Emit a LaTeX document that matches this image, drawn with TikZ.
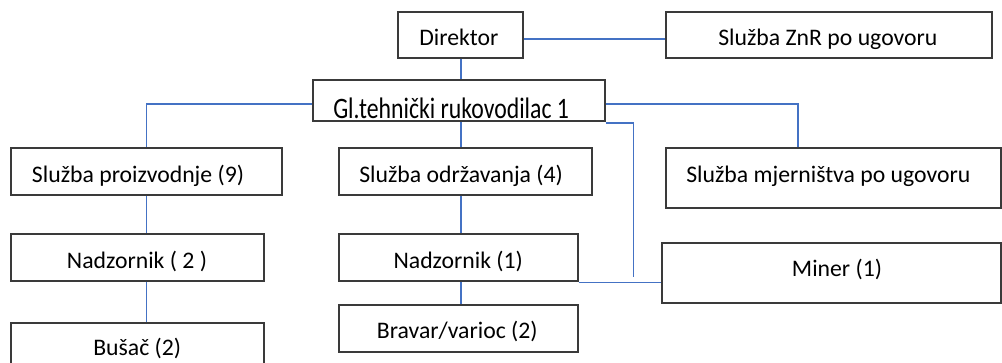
\documentclass[tikz,border=0pt]{standalone}
\usepackage{fontspec}
\usepackage{graphicx}
\setmainfont{Carlito}
\usetikzlibrary{fit}
\definecolor{connblue}{HTML}{4472C4}
\definecolor{boxline}{HTML}{3A3A3A}
\tikzset{
  box/.style={draw=boxline, line width=0.9pt, inner sep=0pt, fill=none},
  lbl/.style={inner sep=0pt, anchor=base west, font=\fontsize{17.8}{21}\selectfont, text=black},
  conn/.style={draw=connblue, line width=1.1pt}
}
\newcommand\bx[5]{\node[box, fit={(#2,#3) (#4,#5)}] (#1) {};}
\begin{document}
\begin{tikzpicture}[x=0.75pt,y=-0.75pt]
\useasboundingbox (0,0) rectangle (1002,362);
\clip (0,0) rectangle (1002,362);
\fill[white] (0,0) rectangle (1002,362);
% column coordinates
\coordinate (c1) at (146.5,0);
\coordinate (c2) at (461,0);
\coordinate (mtap) at (633.5,277);
% boxes
\bx{dir}{398}{12}{523}{58}
\bx{znr}{666}{12}{992}{58}
\bx{gl}{313}{80}{605}{121}
\bx{sp}{11}{148}{282}{195}
\bx{so}{339}{148}{592}{195}
\bx{sm}{666}{148}{1001}{208}
\bx{ntwo}{11}{234}{264}{281}
\bx{none}{339}{234}{578}{281}
\bx{bu}{11}{323}{264}{375}
\bx{br}{339}{305}{578}{352}
\bx{mi}{662}{243}{1001}{303}
% labels
\node[lbl] (tdir) at (419,45) {Direktor};
\node[lbl] (tznr) at (718,45) {Služba ZnR po ugovoru};
\node[lbl] (tgl) at (333,118.4) {\scalebox{1}[1.25]{Gl.tehnički rukovodilac 1}};
\node[lbl] (tsp) at (31.7,182.3) {Služba proizvodnje (9)};
\node[lbl] (tso) at (359,182.3) {Služba održavanja (4)};
\node[lbl] (tsm) at (686,182.7) {Služba mjerništva po ugovoru};
\node[lbl] (tntwo) at (66.7,268.3) {Nadzornik ( 2 )};
\node[lbl] (tnone) at (393.3,268.3) {Nadzornik (1)};
\node[lbl] (tbu) at (93,355) {Bušač (2)};
\node[lbl] (tbr) at (376.7,338) {Bravar/varioc (2)};
\node[lbl] (tmi) at (791.7,276.7) {Miner (1)};
% connectors
\draw[conn] ([yshift=-3pt]dir.east) -- ([yshift=-3pt]znr.west);
\draw[conn] (c2 |- dir.south) -- (c2 |- gl.north);
\draw[conn] ([yshift=-2.6pt]gl.west) -| (sp.north);
\draw[conn] (c2 |- gl.south) -- (c2 |- so.north);
\draw[conn] ([yshift=-2.6pt]gl.east) -| ([xshift=-26.6pt]sm.north);
\draw[conn] ([yshift=-1pt]gl.south east) -| (mtap);
\draw[conn] ([yshift=-0.8pt]none.south east) -- ([yshift=-0.8pt]none.south east -| mi.west);
\draw[conn] (c1 |- sp.south) -- (c1 |- ntwo.north);
\draw[conn] (c1 |- ntwo.south) -- (c1 |- bu.north);
\draw[conn] (c2 |- so.south) -- (c2 |- none.north);
\draw[conn] (c2 |- none.south) -- (c2 |- br.north);
\end{tikzpicture}
\end{document}
